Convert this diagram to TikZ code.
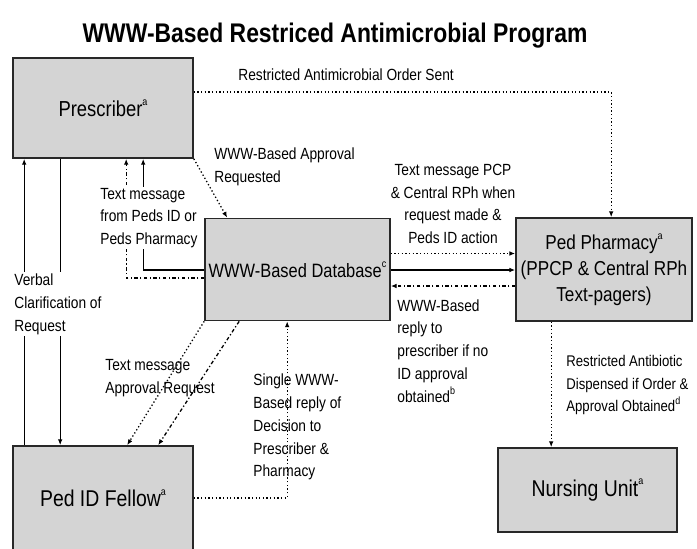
\documentclass[tikz,border=0pt]{standalone}
\usepackage{fontspec}
\setmainfont{Liberation Sans}[FakeStretch=0.85]
\usetikzlibrary{calc,arrows.meta}
\definecolor{boxgray}{RGB}{212,212,212}
\definecolor{edgegray}{RGB}{40,40,40}
\newcommand{\fnmark}[1]{\raisebox{0.5em}{\fontsize{9}{10}\selectfont #1}}
\begin{document}
\begin{tikzpicture}
	[x=0.03cm,y=-0.03cm,>={Latex[length=5pt,width=4pt]},
	 box/.style={rectangle,draw=edgegray,line width=1.4pt,fill=boxgray,inner sep=0pt,align=center},
	 note/.style={font=\fontsize{13.8}{19.5}\selectfont,align=left,anchor=west,inner sep=1pt},
	 link/.style={line width=1.1pt,->}]
    \useasboundingbox (0,0) rectangle (697,548);

    \node[font=\bfseries\fontsize{23}{27}\selectfont] (title) at (335,36) {WWW-Based Restriced Antimicrobial Program};

    \node[box,minimum width=5.4cm,minimum height=3cm,font=\fontsize{18.5}{22}\selectfont] (prescriber) at (103,108) {Prescriber\fnmark{a}};
    \node[box,minimum width=5.55cm,minimum height=3.06cm,font=\fontsize{16.5}{20}\selectfont] (database) at (297.5,269.5) {WWW-Based Database\fnmark{c}};
    \node[box,minimum width=5.28cm,minimum height=3.09cm,font=\fontsize{17.2}{22}\selectfont] (pharmacy) at (604,269.5) {Ped Pharmacy\fnmark{a}\\(PPCP \& Central RPh\\Text-pagers)};
    \node[box,minimum width=5.37cm,minimum height=2.52cm,font=\fontsize{19.5}{23}\selectfont] (nursing) at (587.5,490) {Nursing Unit\fnmark{a}};
    \node[box,minimum width=5.4cm,minimum height=3.12cm,font=\fontsize{19.5}{23}\selectfont] (fellow) at (103,498) {Ped ID Fellow\fnmark{a}};

    % prescriber <-> fellow
    \draw[link] ($(fellow.north west)+(12,0)$) -- ($(prescriber.south west)+(12,0)$);
    \draw[link] ($(prescriber.south west)+(48,0)$) -- ($(fellow.north west)+(48,0)$);

    % database back to prescriber
    \draw[link,dash dot] ($(database.west)+(0,8.5)$) -| ($(prescriber.south west)+(114,0)$);
    \draw[link] ($(database.west)+(0,0.5)$) -| ($(prescriber.south west)+(131,0)$);

    % prescriber to database and pharmacy
    \draw[link,dotted] (prescriber.south east) -- ($(database.north west)+(23,0)$);
    \draw[link,dotted] ($(prescriber.east)+(0,-16)$) -| ($(pharmacy.north west)+(96,0)$);

    % database <-> pharmacy
    \draw[link,dotted] ($(database.east)+(0,-16)$) -- ($(pharmacy.west)+(0,-16)$);
    \draw[link] ($(database.east)+(0,0.5)$) -- ($(pharmacy.west)+(0,0.5)$);
    \draw[link,dash dot] ($(pharmacy.west)+(0,16.5)$) -- ($(database.east)+(0,16.5)$);

    % database <-> fellow
    \draw[link,dotted] (database.south west) -- ($(fellow.north west)+(115,0)$);
    \draw[link,dash dot] ($(database.south west)+(35,0)$) -- ($(fellow.north west)+(146,0)$);
    \draw[link,dotted] (fellow.east) -| ($(database.south west)+(83,0)$);

    % pharmacy to nursing
    \coordinate (drop) at ($(pharmacy.south west)+(36,0)$);
    \draw[link,dotted] (drop) -- (drop |- nursing.north);

    \node[note] (sent) at (237,75) {Restricted Antimicrobial Order Sent};
    \node[note] (asked) at (213,167) {WWW-Based Approval\\Requested};
    \node[note,fill=white] (fromid) at (99,218) {Text message\\from Peds ID or\\Peds Pharmacy};
    \node[note,fill=white] (verbal) at (13,304) {Verbal\\Clarification of\\Request};
    \node[note,align=center,anchor=center] (pcp) at (453,204) {Text message PCP\\\& Central RPh when\\request made \&\\Peds ID action};
    \node[note] (noid) at (396,351) {WWW-Based\\reply to\\prescriber if no\\ID approval\\obtained\fnmark{b}};
    \node[note] (tomsg) at (104,378) {Text message\\Approval Request};
    \node[note] (single) at (252,427) {Single WWW-\\Based reply of\\Decision to\\Prescriber \&\\Pharmacy};
    \node[note,font=\fontsize{13.2}{19.5}\selectfont] (dispensed) at (565,385) {Restricted Antibiotic\\Dispensed if Order \&\\Approval Obtained\fnmark{d}};

\end{tikzpicture}
\end{document}
